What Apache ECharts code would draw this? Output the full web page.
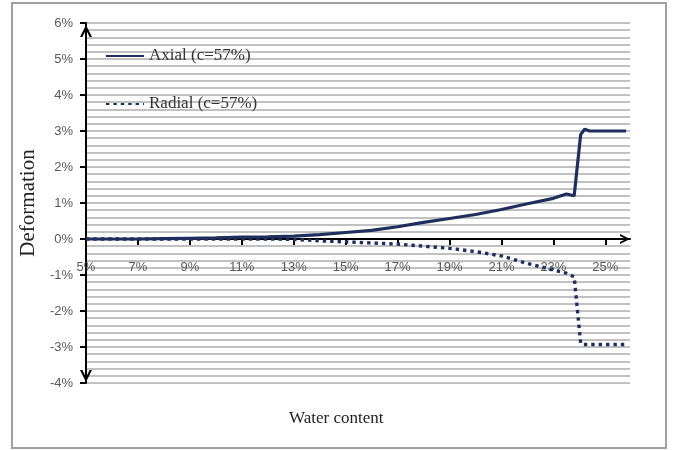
<!DOCTYPE html>
<html>
<head>
<meta charset="utf-8">
<script src="https://cdn.jsdelivr.net/npm/echarts@6/dist/echarts.min.js"></script>
<style>
html,body{margin:0;padding:0;background:#fff;}
#chart{width:673px;height:450px;}
</style>
</head>
<body>
<div id="chart"></div>
<script>
// Data
const axialWater  = [5,6,7,8,9,10,11,12,13,14,15,16,17,18,19,20,21,22,23,23.5,23.8,24.05,24.2,24.4,25.8];
const axialValues = [0,0,0,0.01,0.02,0.03,0.05,0.06,0.08,0.12,0.18,0.24,0.34,0.46,0.57,0.68,0.82,0.98,1.13,1.25,1.2,2.9,3.05,3.0,3.0];
const radialWater  = [5,6,7,8,9,10,11,12,13,14,15,16,17,18,19,20,21,22,23,23.5,23.8,24.05,24.15,25.8];
const radialValues = [0,0,0,0,0,0,0,0,-0.01,-0.05,-0.08,-0.11,-0.14,-0.2,-0.26,-0.35,-0.47,-0.68,-0.86,-0.95,-1.05,-2.9,-2.93,-2.93];
const xTicks = [5,7,9,11,13,15,17,19,21,23,25];
const seriesNames = ['Axial (c=57%)', 'Radial (c=57%)'];
const xTitle = 'Water content';
const yTitle = 'Deformation';

const lineColor = '#1F2E5C';
const gridColor = '#ADADAD';
const serif = '"Liberation Serif", "DejaVu Serif", serif';
const sans = '"Liberation Sans", sans-serif';
const chevron = 'path://M0,10 L5,0 L10,10 L8,10 L5,4 L2,10 Z';

const chart = echarts.init(document.getElementById('chart'));
const option = {
  animation: false,
  backgroundColor: '#fff',
  grid: { left: 86, right: 43, top: 23, bottom: 67, containLabel: false },
  legend: {
    orient: 'vertical',
    left: 105, top: 46, padding: 0,
    itemWidth: 38, itemHeight: 14, itemGap: 28,
    itemStyle: { opacity: 0 },
    textStyle: { fontFamily: serif, fontSize: 17, color: '#333', lineHeight: 20 },
    data: seriesNames
  },
  xAxis: {
    type: 'value', min: 5, max: 25.95,
    axisLine: { onZero: true, lineStyle: { color: '#000', width: 2 }, symbol: ['none', chevron], symbolSize: [12, 10], symbolOffset: [0, -5] },
    axisTick: { customValues: xTicks, length: 6, lineStyle: { color: '#000', width: 2 } },
    axisLabel: { customValues: xTicks, formatter: v => v + '%', margin: -122, fontFamily: sans, fontSize: 13, color: '#595959' },
    splitLine: { show: false }
  },
  yAxis: {
    type: 'value', min: -4, max: 6, interval: 1,
    name: yTitle, nameLocation: 'middle', nameGap: 46, nameRotate: 90,
    nameTextStyle: { fontFamily: serif, fontSize: 21, color: '#222' },
    axisLine: { show: true, lineStyle: { color: '#000', width: 2 }, symbol: [chevron, chevron], symbolSize: [14, 12], symbolOffset: [7, -8] },
    axisTick: { show: true, length: 6, lineStyle: { color: '#000', width: 2 } },
    axisLabel: { formatter: v => v + '%', margin: 13, fontFamily: sans, fontSize: 13, color: '#595959' },
    splitLine: { show: true, lineStyle: { color: gridColor, width: 1.6 } },
    minorTick: { show: false, splitNumber: 5 },
    minorSplitLine: { show: true, lineStyle: { color: gridColor, width: 1.6 } }
  },
  graphic: [
    { type: 'rect', shape: { x: 12, y: 3, width: 654, height: 445 }, style: { fill: 'none', stroke: '#A0A0A0', lineWidth: 2 }, silent: true },
    { type: 'text', left: 289, top: 410, style: { text: xTitle, font: '17px ' + serif, fill: '#222' } }
  ],
  series: [
    {
      name: seriesNames[0], type: 'line', symbol: 'none', smooth: false,
      data: axialWater.map((w, i) => [w, axialValues[i]]),
      lineStyle: { color: lineColor, width: 3.2 }, itemStyle: { color: lineColor }, z: 5
    },
    {
      name: seriesNames[1], type: 'line', symbol: 'none',
      data: radialWater.map((w, i) => [w, radialValues[i]]),
      lineStyle: { color: lineColor, width: 3.4, type: [3.4, 4] }, itemStyle: { color: lineColor }, z: 4
    }
  ]
};
chart.setOption(option);
</script>
</body>
</html>
